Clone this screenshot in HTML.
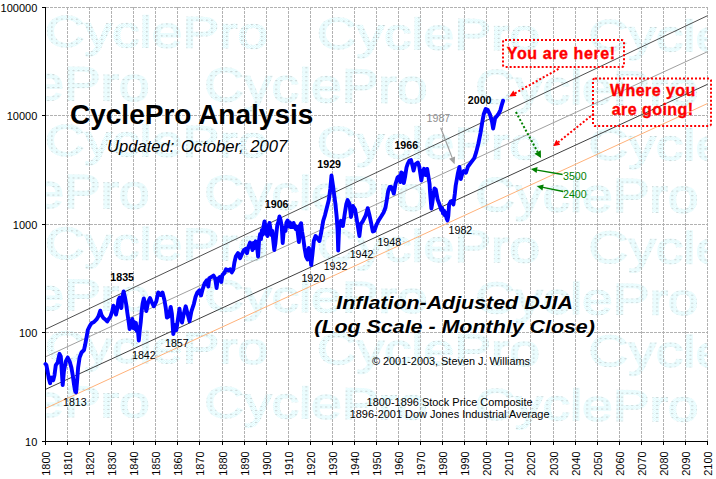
<!DOCTYPE html>
<html><head><meta charset="utf-8"><title>CyclePro Analysis</title>
<style>
html,body{margin:0;padding:0;background:#fff;}
svg{display:block;}
text{font-family:'Liberation Sans', Arial, sans-serif;}
</style></head><body>
<svg width="716" height="479" viewBox="0 0 716 479">
<rect width="716" height="479" fill="#fff"/>

<defs><clipPath id="pa"><rect x="46" y="7" width="662" height="434"/></clipPath><pattern id="wm" x="0" y="0" width="4" height="4" patternUnits="userSpaceOnUse"><rect width="4" height="4" fill="#ffffff"/><rect x="0" y="0" width="1" height="1" fill="#d6fafd"/><rect x="2" y="0" width="1" height="1" fill="#d6fafd"/><rect x="1" y="1" width="1" height="1" fill="#d6fafd"/><rect x="3" y="1" width="1" height="1" fill="#d6fafd"/><rect x="0" y="2" width="1" height="1" fill="#d6fafd"/><rect x="2" y="2" width="1" height="1" fill="#d6fafd"/><rect x="1" y="3" width="1" height="1" fill="#d6fafd"/><rect x="3" y="3" width="1" height="1" fill="#d6fafd"/><rect x="1" y="0" width="1" height="1" fill="#bcbcbc"/></pattern></defs>
<g clip-path="url(#pa)"><g fill="url(#wm)" stroke="url(#wm)" stroke-width="1.5" font-size="44">
<text transform="translate(44.9,46.5) rotate(0.43) scale(1.25,1)">CyclePro</text>
<text transform="translate(316.7,48.5) rotate(0.43) scale(1.25,1)">CyclePro</text>
<text transform="translate(588.5,50.5) rotate(0.43) scale(1.25,1)">CyclePro</text>
<text transform="translate(-73.6,99.0) rotate(0.43) scale(1.25,1.08)">CyclePro</text>
<text transform="translate(204.2,101.1) rotate(0.43) scale(1.25,1.08)">CyclePro</text>
<text transform="translate(475.2,103.1) rotate(0.43) scale(1.25,1.08)">CyclePro</text>
<text transform="translate(44.9,155.5) rotate(0.43) scale(1.25,1)">CyclePro</text>
<text transform="translate(316.7,157.5) rotate(0.43) scale(1.25,1)">CyclePro</text>
<text transform="translate(588.5,159.5) rotate(0.43) scale(1.25,1)">CyclePro</text>
<text transform="translate(-73.6,206.6) rotate(0.43) scale(1.25,1.08)">CyclePro</text>
<text transform="translate(204.2,208.7) rotate(0.43) scale(1.25,1.08)">CyclePro</text>
<text transform="translate(475.2,210.7) rotate(0.43) scale(1.25,1.08)">CyclePro</text>
<text transform="translate(44.9,258.7) rotate(0.43) scale(1.25,1.02)">CyclePro</text>
<text transform="translate(316.7,260.7) rotate(0.43) scale(1.25,1.02)">CyclePro</text>
<text transform="translate(588.5,262.7) rotate(0.43) scale(1.25,1.02)">CyclePro</text>
<text transform="translate(-73.6,309.0) rotate(0.43) scale(1.25,1)">CyclePro</text>
<text transform="translate(204.2,311.1) rotate(0.43) scale(1.25,1)">CyclePro</text>
<text transform="translate(475.2,313.1) rotate(0.43) scale(1.25,1)">CyclePro</text>
<text transform="translate(44.9,362.0) rotate(0.43) scale(1.25,1)">CyclePro</text>
<text transform="translate(316.7,364.0) rotate(0.43) scale(1.25,1)">CyclePro</text>
<text transform="translate(588.5,366.0) rotate(0.43) scale(1.25,1)">CyclePro</text>
<text transform="translate(-73.6,415.6) rotate(0.43) scale(1.25,1)">CyclePro</text>
<text transform="translate(204.2,417.6) rotate(0.43) scale(1.25,1)">CyclePro</text>
<text transform="translate(475.2,419.6) rotate(0.43) scale(1.25,1)">CyclePro</text>
</g>
</g>
<g stroke="#b2b2b2" stroke-width="1" stroke-dasharray="3,1" shape-rendering="crispEdges">
<line x1="67.5" y1="7" x2="67.5" y2="441"/>
<line x1="89.5" y1="7" x2="89.5" y2="441"/>
<line x1="111.5" y1="7" x2="111.5" y2="441"/>
<line x1="133.5" y1="7" x2="133.5" y2="441"/>
<line x1="155.5" y1="7" x2="155.5" y2="441"/>
<line x1="177.5" y1="7" x2="177.5" y2="441"/>
<line x1="199.5" y1="7" x2="199.5" y2="441"/>
<line x1="222.5" y1="7" x2="222.5" y2="441"/>
<line x1="244.5" y1="7" x2="244.5" y2="441"/>
<line x1="266.5" y1="7" x2="266.5" y2="441"/>
<line x1="288.5" y1="7" x2="288.5" y2="441"/>
<line x1="310.5" y1="7" x2="310.5" y2="441"/>
<line x1="332.5" y1="7" x2="332.5" y2="441"/>
<line x1="354.5" y1="7" x2="354.5" y2="441"/>
<line x1="376.5" y1="7" x2="376.5" y2="441"/>
<line x1="398.5" y1="7" x2="398.5" y2="441"/>
<line x1="420.5" y1="7" x2="420.5" y2="441"/>
<line x1="442.5" y1="7" x2="442.5" y2="441"/>
<line x1="464.5" y1="7" x2="464.5" y2="441"/>
<line x1="486.5" y1="7" x2="486.5" y2="441"/>
<line x1="508.5" y1="7" x2="508.5" y2="441"/>
<line x1="530.5" y1="7" x2="530.5" y2="441"/>
<line x1="553.5" y1="7" x2="553.5" y2="441"/>
<line x1="575.5" y1="7" x2="575.5" y2="441"/>
<line x1="597.5" y1="7" x2="597.5" y2="441"/>
<line x1="619.5" y1="7" x2="619.5" y2="441"/>
<line x1="641.5" y1="7" x2="641.5" y2="441"/>
<line x1="663.5" y1="7" x2="663.5" y2="441"/>
<line x1="685.5" y1="7" x2="685.5" y2="441"/>
<line x1="707.5" y1="7" x2="707.5" y2="441"/>
<line x1="46" y1="7.5" x2="708" y2="7.5"/>
<line x1="46" y1="115.5" x2="708" y2="115.5"/>
<line x1="46" y1="224.5" x2="708" y2="224.5"/>
<line x1="46" y1="332.5" x2="708" y2="332.5"/>
</g>
<line x1="45.5" y1="329.3" x2="707.5" y2="15.7" stroke="#505050" stroke-width="1"/>
<line x1="45.5" y1="356.8" x2="707.5" y2="51.7" stroke="#a0a0a0" stroke-width="1"/>
<line x1="45.5" y1="389.4" x2="707.5" y2="84.3" stroke="#404040" stroke-width="1"/>
<line x1="45.5" y1="408.4" x2="707.5" y2="103.5" stroke="#ffb27a" stroke-width="1"/>
<g stroke="#000" stroke-width="1" shape-rendering="crispEdges">
<line x1="45.5" y1="7" x2="45.5" y2="442"/>
<line x1="45" y1="441.5" x2="708" y2="441.5"/>
<line x1="42" y1="7.5" x2="45" y2="7.5"/>
<line x1="42" y1="115.5" x2="45" y2="115.5"/>
<line x1="42" y1="224.5" x2="45" y2="224.5"/>
<line x1="42" y1="332.5" x2="45" y2="332.5"/>
<line x1="42" y1="441.5" x2="45" y2="441.5"/>
<line x1="45.5" y1="442" x2="45.5" y2="445"/>
<line x1="67.5" y1="442" x2="67.5" y2="445"/>
<line x1="89.5" y1="442" x2="89.5" y2="445"/>
<line x1="111.5" y1="442" x2="111.5" y2="445"/>
<line x1="133.5" y1="442" x2="133.5" y2="445"/>
<line x1="155.5" y1="442" x2="155.5" y2="445"/>
<line x1="177.5" y1="442" x2="177.5" y2="445"/>
<line x1="199.5" y1="442" x2="199.5" y2="445"/>
<line x1="222.5" y1="442" x2="222.5" y2="445"/>
<line x1="244.5" y1="442" x2="244.5" y2="445"/>
<line x1="266.5" y1="442" x2="266.5" y2="445"/>
<line x1="288.5" y1="442" x2="288.5" y2="445"/>
<line x1="310.5" y1="442" x2="310.5" y2="445"/>
<line x1="332.5" y1="442" x2="332.5" y2="445"/>
<line x1="354.5" y1="442" x2="354.5" y2="445"/>
<line x1="376.5" y1="442" x2="376.5" y2="445"/>
<line x1="398.5" y1="442" x2="398.5" y2="445"/>
<line x1="420.5" y1="442" x2="420.5" y2="445"/>
<line x1="442.5" y1="442" x2="442.5" y2="445"/>
<line x1="464.5" y1="442" x2="464.5" y2="445"/>
<line x1="486.5" y1="442" x2="486.5" y2="445"/>
<line x1="508.5" y1="442" x2="508.5" y2="445"/>
<line x1="530.5" y1="442" x2="530.5" y2="445"/>
<line x1="553.5" y1="442" x2="553.5" y2="445"/>
<line x1="575.5" y1="442" x2="575.5" y2="445"/>
<line x1="597.5" y1="442" x2="597.5" y2="445"/>
<line x1="619.5" y1="442" x2="619.5" y2="445"/>
<line x1="641.5" y1="442" x2="641.5" y2="445"/>
<line x1="663.5" y1="442" x2="663.5" y2="445"/>
<line x1="685.5" y1="442" x2="685.5" y2="445"/>
<line x1="707.5" y1="442" x2="707.5" y2="445"/>
</g>
<g font-size="11.0" fill="#000" text-anchor="end">
<text x="37.3" y="11.8">100000</text>
<text x="37.3" y="119.8">10000</text>
<text x="37.3" y="228.8">1000</text>
<text x="37.3" y="336.8">100</text>
<text x="37.3" y="445.8">10</text>
</g>
<g font-size="10.9" fill="#000" text-anchor="end">
<text transform="translate(49.7,451.5) rotate(-90)">1800</text>
<text transform="translate(71.7,451.5) rotate(-90)">1810</text>
<text transform="translate(93.7,451.5) rotate(-90)">1820</text>
<text transform="translate(115.7,451.5) rotate(-90)">1830</text>
<text transform="translate(137.7,451.5) rotate(-90)">1840</text>
<text transform="translate(159.7,451.5) rotate(-90)">1850</text>
<text transform="translate(181.7,451.5) rotate(-90)">1860</text>
<text transform="translate(203.7,451.5) rotate(-90)">1870</text>
<text transform="translate(226.7,451.5) rotate(-90)">1880</text>
<text transform="translate(248.7,451.5) rotate(-90)">1890</text>
<text transform="translate(270.7,451.5) rotate(-90)">1900</text>
<text transform="translate(292.7,451.5) rotate(-90)">1910</text>
<text transform="translate(314.7,451.5) rotate(-90)">1920</text>
<text transform="translate(336.7,451.5) rotate(-90)">1930</text>
<text transform="translate(358.7,451.5) rotate(-90)">1940</text>
<text transform="translate(380.7,451.5) rotate(-90)">1950</text>
<text transform="translate(402.7,451.5) rotate(-90)">1960</text>
<text transform="translate(424.7,451.5) rotate(-90)">1970</text>
<text transform="translate(446.7,451.5) rotate(-90)">1980</text>
<text transform="translate(468.7,451.5) rotate(-90)">1990</text>
<text transform="translate(490.7,451.5) rotate(-90)">2000</text>
<text transform="translate(512.7,451.5) rotate(-90)">2010</text>
<text transform="translate(534.7,451.5) rotate(-90)">2020</text>
<text transform="translate(557.7,451.5) rotate(-90)">2030</text>
<text transform="translate(579.7,451.5) rotate(-90)">2040</text>
<text transform="translate(601.7,451.5) rotate(-90)">2050</text>
<text transform="translate(623.7,451.5) rotate(-90)">2060</text>
<text transform="translate(645.7,451.5) rotate(-90)">2070</text>
<text transform="translate(667.7,451.5) rotate(-90)">2080</text>
<text transform="translate(689.7,451.5) rotate(-90)">2090</text>
<text transform="translate(711.7,451.5) rotate(-90)">2100</text>
</g>
<path d="M45.5,364.0 L46.4,365.0 L47.6,371.3 L48.9,378.8 L50.1,383.2 L51.4,377.6 L53.3,380.1 L54.5,375.1 L55.8,365.1 L57.7,362.5 L59.5,353.8 L60.8,356.3 L61.8,371.3 L62.7,385.1 L63.9,371.3 L65.8,361.3 L67.7,357.5 L69.6,361.3 L71.4,367.6 L72.7,375.1 L73.9,383.8 L75.2,391.4 L76.1,392.4 L77.1,381.3 L78.1,367.6 L79.6,357.5 L81.5,352.5 L84.0,350.0 L85.2,344.5 L86.5,337.6 L87.8,330.0 L89.6,326.3 L91.5,323.2 L94.0,322.0 L96.5,319.4 L98.4,316.3 L100.3,310.7 L101.5,315.0 L103.4,318.0 L105.3,319.5 L107.2,321.5 L108.4,319.5 L110.3,317.0 L112.2,311.3 L113.4,305.7 L114.7,308.8 L116.0,314.5 L117.2,309.0 L118.4,300.0 L119.7,297.5 L120.6,305.0 L121.3,308.0 L122.3,298.0 L123.6,291.5 L125.0,297.5 L126.3,305.0 L127.5,314.0 L128.8,322.6 L129.6,329.0 L130.5,321.0 L131.4,327.0 L132.3,319.0 L133.2,328.0 L134.1,322.0 L135.0,329.0 L135.9,323.0 L136.8,331.0 L137.6,327.0 L138.8,340.5 L139.8,330.0 L140.7,322.6 L141.7,311.0 L142.6,303.8 L143.8,298.5 L145.0,303.8 L146.3,311.0 L147.5,305.0 L148.6,301.0 L150.0,298.0 L151.9,302.5 L153.8,306.3 L156.3,301.3 L158.2,292.5 L160.7,295.0 L162.5,292.5 L164.4,300.0 L165.7,307.6 L166.9,317.6 L168.8,316.3 L170.7,306.9 L171.9,313.8 L173.3,334.0 L175.1,325.1 L176.3,330.1 L178.2,317.6 L179.5,308.8 L180.7,317.6 L182.0,322.6 L183.8,313.8 L185.7,306.3 L187.6,313.8 L189.5,321.3 L191.4,311.3 L193.9,303.8 L195.5,297.0 L197.3,292.5 L199.4,290.2 L201.0,295.5 L202.5,289.7 L204.6,283.4 L206.7,280.3 L208.3,286.5 L209.3,278.2 L211.4,277.1 L213.5,275.6 L215.1,278.2 L216.6,288.0 L217.7,279.2 L219.7,277.1 L221.3,282.0 L222.4,275.0 L224.4,273.0 L226.0,269.3 L228.1,270.4 L230.2,269.3 L231.8,272.4 L233.3,269.8 L234.4,262.5 L235.9,256.3 L238.0,253.1 L240.1,258.2 L242.0,253.8 L243.9,250.0 L245.7,248.8 L247.0,253.2 L248.2,247.5 L250.1,242.5 L251.2,245.0 L252.5,250.1 L253.4,243.0 L254.4,248.0 L255.6,241.3 L256.9,245.5 L258.1,256.5 L259.1,240.0 L260.1,234.0 L261.0,239.0 L261.9,230.0 L262.8,234.5 L263.6,226.0 L264.5,221.5 L265.5,226.0 L266.5,234.0 L267.5,236.0 L268.4,227.0 L269.5,223.0 L270.5,229.0 L271.4,235.0 L272.3,231.0 L273.2,240.0 L274.3,250.0 L275.3,244.0 L276.3,234.0 L277.3,225.0 L278.4,222.0 L279.5,216.5 L280.6,220.0 L281.7,226.0 L282.7,243.0 L283.6,232.0 L284.5,227.6 L285.5,231.0 L286.4,222.6 L287.6,220.5 L288.8,226.3 L289.8,222.5 L290.7,227.0 L291.7,223.5 L292.6,227.0 L293.6,223.0 L294.5,226.0 L295.7,229.0 L296.7,226.5 L297.6,231.5 L298.9,242.0 L300.1,225.1 L301.1,223.2 L302.0,231.3 L303.2,238.0 L304.5,247.6 L306.0,256.3 L307.5,259.5 L308.8,248.0 L310.0,253.8 L311.2,265.0 L312.5,253.8 L313.8,241.0 L315.6,236.0 L317.5,238.6 L319.4,241.0 L321.3,232.0 L323.2,220.8 L325.0,215.1 L326.9,207.6 L328.8,200.1 L330.3,188.8 L331.5,175.5 L332.9,185.0 L334.1,194.4 L335.4,203.8 L336.7,217.0 L337.6,230.2 L338.2,250.5 L339.1,228.0 L341.0,220.8 L342.9,226.0 L344.8,213.2 L346.3,204.0 L347.6,200.1 L349.5,203.8 L351.0,217.0 L352.9,206.0 L355.1,209.5 L357.9,226.4 L359.4,236.0 L360.8,224.0 L362.5,221.8 L365.7,215.5 L367.7,208.2 L369.3,214.4 L370.9,221.8 L372.8,231.5 L374.4,231.0 L376.3,225.1 L378.8,220.1 L381.3,216.3 L383.6,212.5 L385.5,207.5 L386.8,200.0 L388.1,191.5 L389.7,187.0 L391.2,187.0 L392.8,190.4 L393.8,193.6 L395.5,184.0 L397.5,177.6 L399.4,176.0 L400.3,182.0 L401.2,172.5 L402.1,180.0 L403.0,173.5 L403.8,183.0 L405.2,176.0 L406.5,167.5 L407.8,163.6 L409.5,160.5 L411.0,160.0 L412.5,165.7 L413.6,170.5 L415.1,164.6 L417.8,162.5 L419.3,166.7 L420.4,174.0 L421.4,180.5 L422.5,173.0 L424.0,168.8 L425.6,175.0 L427.2,169.0 L428.7,178.2 L429.6,184.0 L429.9,190.0 L430.7,200.0 L431.4,208.5 L432.3,203.0 L433.2,196.0 L434.5,188.5 L435.8,189.5 L436.8,195.0 L437.6,199.5 L438.8,202.6 L440.2,206.5 L441.2,210.0 L442.1,208.0 L443.0,213.5 L444.0,210.5 L444.9,215.5 L445.8,212.5 L446.6,218.5 L447.5,220.5 L448.3,216.0 L449.1,204.5 L450.6,201.6 L452.4,200.7 L453.4,204.5 L454.8,194.0 L455.7,185.5 L456.7,180.0 L457.8,173.8 L459.4,167.0 L460.8,179.0 L461.9,175.0 L463.8,171.0 L465.9,172.8 L468.0,166.5 L471.1,162.3 L474.3,158.1 L476.3,151.9 L478.4,143.5 L480.5,133.1 L482.2,122.6 L483.7,114.3 L485.7,109.0 L487.8,110.1 L489.9,114.3 L492.0,121.6 L493.1,128.5 L495.1,118.4 L498.3,114.3 L500.4,110.1 L501.8,104.8 L503.1,100.7" fill="none" stroke="#0000ff" stroke-width="3.9" stroke-linejoin="round" stroke-linecap="round"/>
<text x="70" y="124" font-size="28" font-weight="bold" fill="#000">CyclePro Analysis</text>
<text x="107" y="152" font-size="16.6" font-style="italic" fill="#000" word-spacing="2">Updated: October, 2007</text>
<text x="110.3" y="281" font-size="10.67" font-weight="bold" fill="#000">1835</text>
<text x="264.8" y="208" font-size="10.67" font-weight="bold" fill="#000">1906</text>
<text x="317.3" y="168" font-size="10.67" font-weight="bold" fill="#000">1929</text>
<text x="394.4" y="149" font-size="10.67" font-weight="bold" fill="#000">1966</text>
<text x="467.8" y="104" font-size="10.67" font-weight="bold" fill="#000">2000</text>
<text x="426.6" y="122" font-size="10.67" fill="#909090">1987</text>
<text x="63" y="406" font-size="10.67" fill="#000">1813</text>
<text x="132" y="359.3" font-size="10.67" fill="#000">1842</text>
<text x="165" y="347" font-size="10.67" fill="#000">1857</text>
<text x="301.4" y="281.7" font-size="10.67" fill="#000">1920</text>
<text x="323.7" y="270" font-size="10.67" fill="#000">1932</text>
<text x="349.7" y="258" font-size="10.67" fill="#000">1942</text>
<text x="377.4" y="246" font-size="10.67" fill="#000">1948</text>
<text x="448.6" y="234.2" font-size="10.67" fill="#000">1982</text>
<text transform="translate(454.6,308.6) scale(1.19,1)" font-size="18" font-weight="bold" font-style="italic" text-anchor="middle">Inflation-Adjusted DJIA</text>
<text transform="translate(454.6,333.3) scale(1.19,1)" font-size="18" font-weight="bold" font-style="italic" text-anchor="middle">(Log Scale - Monthly Close)</text>
<text x="451" y="365.3" font-size="10.9" text-anchor="middle">© 2001-2003, Steven J. Williams</text>
<text x="449.6" y="406" font-size="10.95" text-anchor="middle">1800-1896 Stock Price Composite</text>
<text x="449.6" y="417.8" font-size="10.95" text-anchor="middle">1896-2001 Dow Jones Industrial Average</text>
<line x1="440.7" y1="127.7" x2="452.11" y2="157.66" stroke="#a0a0a0" stroke-width="1.2"/>
<polygon points="454.6,164.2 449.12,158.80 455.10,156.52" fill="#a0a0a0"/>
<line x1="515.9" y1="112.1" x2="537.65" y2="151.96" stroke="#008000" stroke-width="2" stroke-dasharray="2,2"/>
<polygon points="541,158.1 534.49,153.68 540.81,150.23" fill="#008000"/>
<line x1="562.6" y1="174.5" x2="537.11" y2="170.08" stroke="#008000" stroke-width="1.3"/>
<polygon points="530.9,169 537.62,167.12 536.59,173.03" fill="#008000"/>
<line x1="563.1" y1="191.5" x2="543.07" y2="187.45" stroke="#008000" stroke-width="1.3"/>
<polygon points="536.9,186.2 543.67,184.51 542.48,190.39" fill="#008000"/>
<text x="563" y="180" font-size="10.67" fill="#008000">3500</text>
<text x="563" y="197.5" font-size="10.67" fill="#008000">2400</text>
<line x1="558.5" y1="68.9" x2="514.87" y2="93.32" stroke="#ff0000" stroke-width="2" stroke-dasharray="2,2"/>
<polygon points="509.2,96.5 513.31,90.53 516.43,96.12" fill="#ff0000"/>
<line x1="593.8" y1="113.8" x2="558.27" y2="142.24" stroke="#ff0000" stroke-width="2" stroke-dasharray="2,2"/>
<polygon points="553.2,146.3 556.27,139.74 560.27,144.74" fill="#ff0000"/>
<rect x="503" y="40" width="121" height="27" rx="2" fill="none" stroke="#ff0000" stroke-width="2" stroke-dasharray="2,2"/>
<text x="561.3" y="58.9" font-size="16" font-weight="bold" fill="#ff0000" stroke="#ff0000" stroke-width="0.35" text-anchor="middle" letter-spacing="0.6">You are here!</text>
<rect x="593" y="78.5" width="118" height="47.5" rx="2" fill="none" stroke="#ff0000" stroke-width="2" stroke-dasharray="2,2"/>
<text x="652.8" y="95.9" font-size="16" font-weight="bold" fill="#ff0000" stroke="#ff0000" stroke-width="0.35" text-anchor="middle" letter-spacing="0.45">Where you</text>
<text x="652.6" y="115.4" font-size="16" font-weight="bold" fill="#ff0000" stroke="#ff0000" stroke-width="0.35" text-anchor="middle" letter-spacing="0.45">are going!</text>
</svg></body></html>
